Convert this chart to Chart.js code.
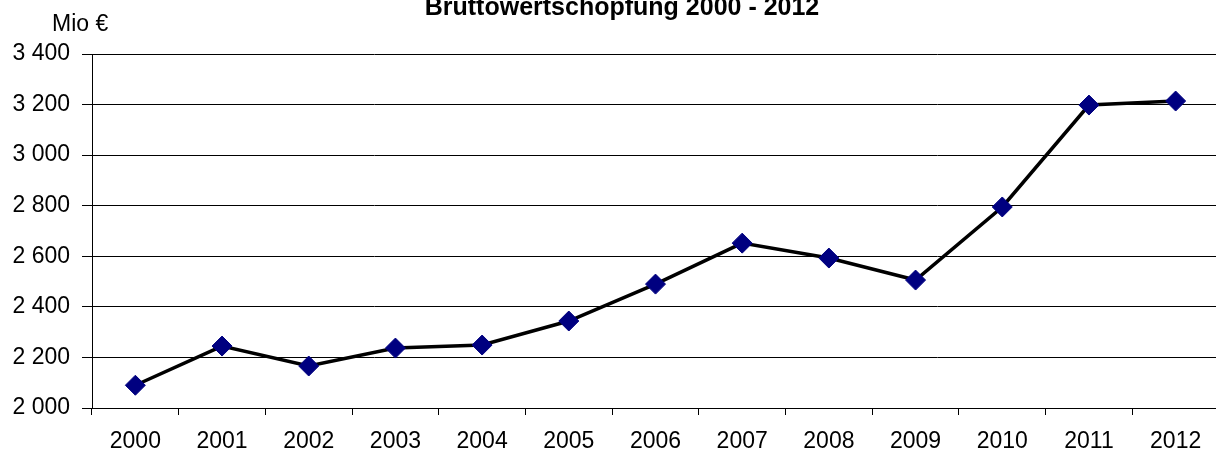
<!DOCTYPE html>
<html>
<head>
<meta charset="utf-8">
<script src="https://cdn.jsdelivr.net/npm/chart.js@4.4.1/dist/chart.umd.min.js"></script>
<style>
  html, body { margin: 0; padding: 0; overflow: hidden; background: #fff; }
  #wrap { width: 1230px; height: 454px; position: relative; }
</style>
</head>
<body>
<div id="wrap"><canvas id="chart"></canvas></div>
<script>
  const years = ["2000", "2001", "2002", "2003", "2004", "2005", "2006", "2007", "2008", "2009", "2010", "2011", "2012"];
  const values = [2090, 2245, 2166, 2237, 2249, 2344, 2490, 2652, 2593, 2506, 2795, 3198, 3214];
  const yTicks = [2000, 2200, 2400, 2600, 2800, 3000, 3200, 3400];
  const titleText = "Bruttowertschöpfung 2000 - 2012";
  const unitText = "Mio €";

  const FONT = "'Liberation Sans', Arial, sans-serif";

  function formatThousands(v) {
    return String(v).replace(/\B(?=(\d{3})+(?!\d))/g, " ");
  }

  // title + unit label drawn as canvas text
  const labelsPlugin = {
    id: "labels",
    afterDraw(chart) {
      const ctx = chart.ctx;
      ctx.save();
      ctx.fillStyle = "#000";
      ctx.font = "bold 25px " + FONT;
      ctx.textAlign = "center";
      ctx.textBaseline = "alphabetic";
      ctx.fillText(titleText, 622, 15);
      ctx.font = "23px " + FONT;
      ctx.textAlign = "left";
      ctx.fillText(unitText, 52, 31);
      ctx.restore();
    },
  };

  new Chart(document.getElementById("chart"), {
    type: "line",
    data: {
      labels: years,
      datasets: [{
        data: values,
        borderColor: "#000",
        borderWidth: 3.5,
        tension: 0,
        pointStyle: "rectRot",
        pointRadius: 10,
        pointBackgroundColor: "#000080",
        pointBorderColor: "#000080",
        pointBorderWidth: 1,
      }],
    },
    options: {
      responsive: true,
      maintainAspectRatio: false,
      animation: false,
      layout: {padding: {top: 54, right: 10, bottom: 0, left: 0}},
      plugins: {legend: {display: false}, tooltip: {enabled: false}, title: {display: false}},
      scales: {
        x: {
          offset: true,
          grid: {offset: true, drawOnChartArea: false, tickLength: 7, color: "#000", lineWidth: 1},
          border: {color: "#000", width: 1},
          ticks: {color: "#000", font: {family: FONT, size: 23}, padding: 13, maxRotation: 0, autoSkip: false},
          afterFit(scale) { scale.height = 46; },
        },
        y: {
          min: yTicks[0],
          max: yTicks[yTicks.length - 1],
          afterBuildTicks(scale) { scale.ticks = yTicks.map((v) => ({value: v})); },
          grid: {color: "#000", lineWidth: 1, tickLength: 10},
          border: {color: "#000", width: 1},
          ticks: {color: "#000", font: {family: FONT, size: 23}, padding: 12, callback: (v) => formatThousands(v)},
          afterFit(scale) { scale.width = 92; },
        },
      },
    },
    plugins: [labelsPlugin],
  });
</script>
</body>
</html>
